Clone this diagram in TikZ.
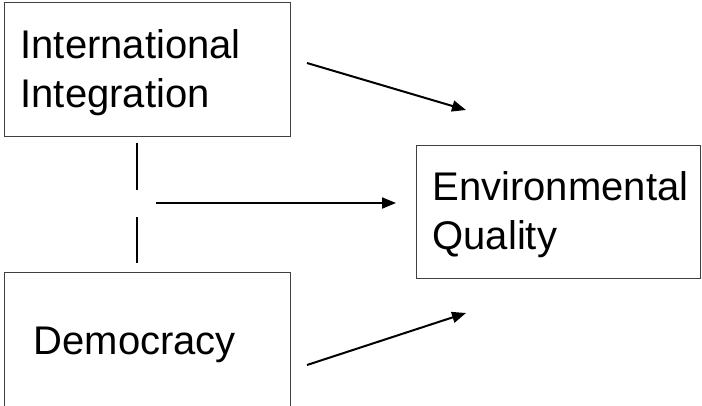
\documentclass[tikz,border=0pt]{standalone}
\usepackage{fontspec}
\setmainfont{Liberation Sans}
\usetikzlibrary{arrows.meta}
\newcommand{\toppad}{\rule{0pt}{35pt}}
\begin{document}
\begin{tikzpicture}[x=1pt,y=-1pt,
  box/.style={draw=black!75, line width=1.2pt, rectangle, anchor=north west, align=left,
    font=\fontsize{40}{49}\selectfont, inner ysep=0pt},
  arr/.style={line width=2pt, -{Triangle[length=14pt,width=11pt]}},
  link/.style={line width=2pt}]
\useasboundingbox (0,0) rectangle (702,405);
\node[box, minimum width=286pt, minimum height=134pt, text width=254pt, inner xsep=16pt] (ii) at (4,2) {\toppad International\\Integration};
\node[box, minimum width=286pt, minimum height=138pt, text width=228pt, inner xsep=29pt] (dem) at (4,272) {\toppad Democracy};
\node[box, minimum width=284pt, minimum height=133pt, text width=252pt, inner xsep=16pt] (eq) at (416,145) {\toppad Environmental\\Quality};
\coordinate (a1s) at (307,63);
\coordinate (a1e) at (466,110);
\coordinate (a2s) at (156,203);
\coordinate (a2e) at (396,203);
\coordinate (a3s) at (307,365);
\coordinate (a3e) at (466,313);
\coordinate (v1s) at (137,143);
\coordinate (v1e) at (137,190);
\coordinate (v2s) at (137,217);
\coordinate (v2e) at (137,263);
\draw[arr] (a1s) -- (a1e);
\draw[arr] (a2s) -- (a2e);
\draw[arr] (a3s) -- (a3e);
\draw[link] (v1s) -- (v1e);
\draw[link] (v2s) -- (v2e);
\end{tikzpicture}
\end{document}
